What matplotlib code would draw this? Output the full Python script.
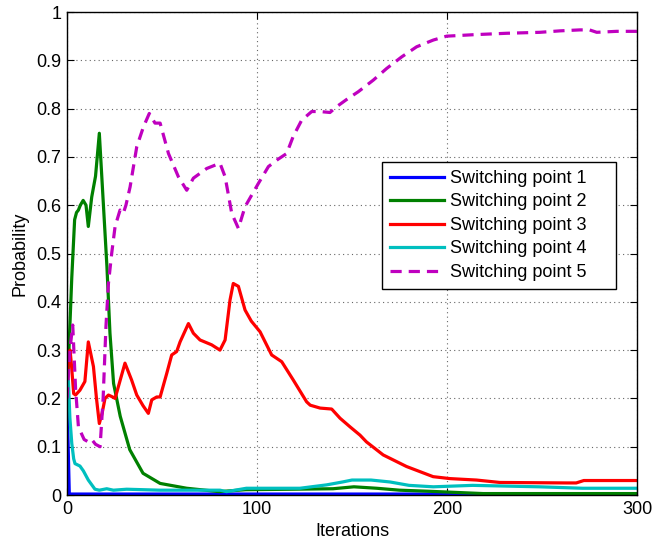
import matplotlib
matplotlib.use("Agg")
import matplotlib.pyplot as plt
from matplotlib.ticker import FormatStrFormatter

plt.rcParams["font.family"] = ["Liberation Sans", "DejaVu Sans"]

# Values (iteration, probability)
sp1_x = [0, 1.2, 300]
sp1_y = [0.20, 0.002, 0.002]

sp2_x = [0, 1, 2.5, 4, 5, 6, 7, 8.5, 10, 11.2, 13, 15, 17, 19, 21, 22.6, 24.5,
         28, 33, 40, 49, 63, 80, 94, 119, 140, 151, 163, 175, 189, 219, 300]
sp2_y = [0.20, 0.30, 0.45, 0.57, 0.585, 0.59, 0.60, 0.61, 0.60, 0.556, 0.617,
         0.66, 0.749, 0.611, 0.473, 0.335, 0.231, 0.163, 0.094, 0.045, 0.024,
         0.014, 0.007, 0.011, 0.012, 0.013, 0.017, 0.014, 0.010, 0.008, 0.003,
         0.003]

sp3_x = [0, 0.8, 1.6, 2.4, 3.5, 4.5, 6.8, 9.4, 11.2, 13.9, 15.5, 17, 18.5, 20,
         21.8, 24, 25.3, 27, 30.5, 34, 36.7, 40, 42.8, 44.6, 47.2, 49, 52.5,
         55.1, 57.7, 59.5, 63.9, 66.5, 70, 76.1, 80.5, 83.2, 85.8, 87.5, 90.2,
         93.7, 97, 101.6, 107.7, 113, 119.1, 126.1, 128, 133.2, 139.3, 143.7,
         149, 154.2, 157.6, 166.4, 178.7, 192.7, 201.5, 215.5, 227.8, 262.9,
         268, 272, 300]
sp3_y = [0.22, 0.29, 0.30, 0.266, 0.21, 0.207, 0.217, 0.235, 0.317, 0.266,
         0.20, 0.148, 0.17, 0.20, 0.207, 0.203, 0.20, 0.224, 0.273, 0.238,
         0.207, 0.185, 0.169, 0.197, 0.203, 0.203, 0.252, 0.29, 0.297, 0.317,
         0.355, 0.335, 0.321, 0.311, 0.30, 0.321, 0.404, 0.438, 0.432, 0.383,
         0.36, 0.338, 0.29, 0.276, 0.238, 0.193, 0.186, 0.18, 0.178, 0.159,
         0.141, 0.124, 0.11, 0.083, 0.059, 0.038, 0.034, 0.031, 0.026, 0.025,
         0.025, 0.03, 0.03]

sp4_x = [0, 0.7, 1.5, 2.5, 3.5, 4.2, 6.8, 8.6, 11.2, 14.7, 17, 20.9, 24.4,
         31.4, 49, 80.5, 84, 94.4, 119, 122.6, 136.6, 145, 150, 160, 170, 180,
         192.8, 213.5, 248.6, 271.4, 300]
sp4_y = [0.24, 0.238, 0.16, 0.107, 0.075, 0.065, 0.06, 0.05, 0.031, 0.012,
         0.01, 0.013, 0.01, 0.012, 0.01, 0.01, 0.007, 0.014, 0.014, 0.014,
         0.021, 0.027, 0.031, 0.031, 0.027, 0.02, 0.017, 0.02, 0.017, 0.014,
         0.014]

sp5_x = [0, 1.5, 3, 4.5, 6, 9, 11.2, 13, 15, 17.4, 19, 20.5, 21.8, 23.5, 25.3,
         27.9, 29.6, 31, 33.2, 36.7, 40.2, 43.3, 46.3, 49, 53.4, 58.6, 63,
         66.5, 73.5, 80.5, 83.2, 86.7, 90.2, 93.7, 100.7, 106, 111, 115.6, 119,
         123.5, 128.8, 133, 138.4, 141.9, 147.2, 153.3, 161.2, 168.2, 176.1,
         184, 192.8, 199.8, 213.8, 231.4, 249, 259.5, 270, 275, 278.8, 289.3,
         300]
sp5_y = [0.20, 0.30, 0.352, 0.22, 0.141, 0.115, 0.11, 0.115, 0.105, 0.10,
         0.20, 0.35, 0.438, 0.50, 0.556, 0.59, 0.583, 0.60, 0.638, 0.721,
         0.762, 0.79, 0.77, 0.77, 0.707, 0.659, 0.631, 0.656, 0.676, 0.687,
         0.659, 0.583, 0.552, 0.597, 0.645, 0.68, 0.695, 0.707, 0.742, 0.776,
         0.794, 0.794, 0.792, 0.804, 0.819, 0.835, 0.859, 0.883, 0.907, 0.928,
         0.942, 0.95, 0.953, 0.956, 0.958, 0.961, 0.963, 0.963, 0.958, 0.96,
         0.96]

labels = ["Switching point 1", "Switching point 2", "Switching point 3",
          "Switching point 4", "Switching point 5"]

x_ticks = [0, 100, 200, 300]
y_ticks = [0, 0.1, 0.2, 0.3, 0.4, 0.5, 0.6, 0.7, 0.8, 0.9, 1]

fig = plt.figure(figsize=(6.52, 5.39), dpi=100)
ax = fig.add_axes([0.1028, 0.0816, 0.8742, 0.8961])

lw = 2.3
ax.plot(sp1_x, sp1_y, color=(0, 0, 1), lw=lw, label=labels[0])
ax.plot(sp2_x, sp2_y, color=(0, 0.5, 0), lw=lw, label=labels[1])
ax.plot(sp3_x, sp3_y, color=(1, 0, 0), lw=lw, label=labels[2])
ax.plot(sp4_x, sp4_y, color=(0, 0.75, 0.75), lw=lw, label=labels[3])
ax.plot(sp5_x, sp5_y, color=(0.75, 0, 0.75), lw=lw, dashes=(3.5, 2.2),
        label=labels[4])

ax.set_xlim(0, 300)
ax.set_ylim(0, 1)
ax.set_xticks(x_ticks)
ax.set_yticks(y_ticks)
ax.yaxis.set_major_formatter(FormatStrFormatter("%g"))
ax.tick_params(direction="in", top=True, right=True, length=5, width=0.8,
               labelsize=13, pad=4)
ax.grid(True, linestyle=(0, (1, 3)), color="0.4", lw=0.8)
for s in ax.spines.values():
    s.set_linewidth(1.0)

ax.set_xlabel("Iterations", fontsize=13, labelpad=4)
ax.set_ylabel("Probability", fontsize=13, labelpad=6)

leg = ax.legend(loc="upper left", bbox_to_anchor=(0.552, 0.690, 0.412, 0.0),
                mode="expand", fontsize=13, handlelength=3.0, fancybox=False,
                framealpha=1, edgecolor="black", borderpad=0.45,
                labelspacing=0.36, handletextpad=0.35, borderaxespad=0)
leg.get_frame().set_linewidth(1.0)

fig.savefig("out.png", dpi=100)
